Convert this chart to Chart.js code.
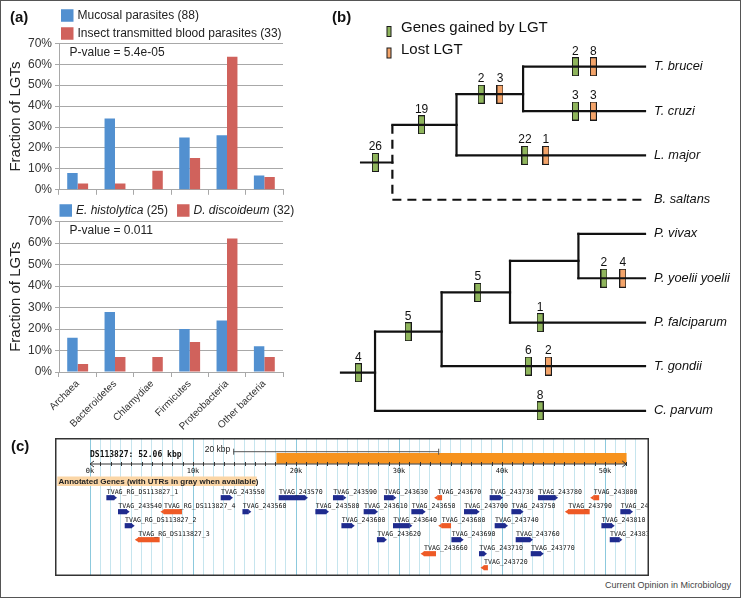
<!DOCTYPE html>
<html>
<head>
<meta charset="utf-8">
<script src="https://cdn.jsdelivr.net/npm/chart.js@4.4.1/dist/chart.umd.min.js"></script>
<style>
html, body { margin: 0; padding: 0; background: #fff; }
#page { position: relative; width: 743px; height: 599px; overflow: hidden; font-family: "Liberation Sans", Arial, sans-serif; }
#frame { position: absolute; left: 0; top: 0; width: 741px; height: 598px; box-sizing: border-box; border: 1.5px solid #555; }
canvas { position: absolute; }
.tag { position: absolute; font-weight: bold; font-size: 15px; color: #111; line-height: 1; }
#credit { position: absolute; left: 605px; top: 581px; font-size: 9px; color: #444; line-height: 1; }
</style>
</head>
<body>
<div id="page">
  <div id="frame"></div>
  <canvas id="barTop" width="300" height="200" style="left:0;top:0"></canvas>
  <canvas id="barBottom" width="300" height="235" style="left:0;top:195px"></canvas>
  <canvas id="tree" width="405" height="430" style="left:335px;top:0"></canvas>
  <canvas id="genome" width="594" height="138" style="left:55px;top:438px"></canvas>
  <div class="tag" style="left:10px;top:9px">(a)</div>
  <div class="tag" style="left:332px;top:9px">(b)</div>
  <div class="tag" style="left:11px;top:438px">(c)</div>
  <div id="credit">Current Opinion in Microbiology</div>
</div>
<script>
// ---- panel (a): fraction of LGTs by donor group (%)
const categories = ['Archaea', 'Bacteroidetes', 'Chlamydiae', 'Firmicutes', 'Proteobacteria', 'Other bacteria'];
const mucosal = [8, 34.1, 0, 25, 26.1, 6.8];
const insectBlood = [3, 3, 9.1, 15.2, 63.6, 6.1];
const histolytica = [16, 28, 0, 20, 24, 12];
const discoideum = [3.7, 7, 7, 14, 62.2, 7];
const yTicks = [0, 10, 20, 30, 40, 50, 60, 70];

// ---- panel (b): trees, [x1, y1, x2, y2, dashed] in tree units
const treeSegments = [
  [6.6, 2.16, 16.9, 2.16, 0],
  [16.9, 1.31, 38.0, 1.31, 0],
  [38.0, 0.62, 38.0, 2, 0],
  [38.0, 0.62, 59.9, 0.62, 0],
  [59.9, 0, 59.9, 1, 0],
  [59.9, 0, 100, 0, 0],
  [59.9, 1, 100, 1, 0],
  [38.0, 2, 100, 2, 0],
  [16.9, 1.31, 16.9, 3, 1],
  [16.9, 3, 100, 3, 1],
  [0, 6.90, 11.2, 6.90, 0],
  [11.2, 5.975, 11.2, 7.76, 0],
  [11.2, 5.975, 33.1, 5.975, 0],
  [11.2, 7.76, 100, 7.76, 0],
  [33.1, 5.09, 33.1, 6.75, 0],
  [33.1, 5.09, 55.6, 5.09, 0],
  [33.1, 6.75, 100, 6.75, 0],
  [55.6, 4.38, 55.6, 5.77, 0],
  [55.6, 4.38, 78.1, 4.38, 0],
  [55.6, 5.77, 100, 5.77, 0],
  [78.1, 3.77, 78.1, 4.77, 0],
  [78.1, 3.77, 100, 3.77, 0],
  [78.1, 4.77, 100, 4.77, 0]
];
const gainX = [11.3, 26.5, 46.1, 77.1, 77.1, 60.5, 5.7, 22.1, 45.0, 86.5, 65.5, 61.6, 65.5];
const gainY = [2.16, 1.31, 0.62, 0, 1, 2, 6.90, 5.975, 5.09, 4.77, 5.77, 6.75, 7.76];
const gainN = [26, 19, 2, 2, 3, 22, 4, 5, 5, 2, 1, 6, 8];
const lossX = [52.3, 83.0, 83.0, 67.4, 92.7, 68.2];
const lossY = [0.62, 0, 1, 2, 4.77, 6.75];
const lossN = [3, 8, 3, 1, 4, 2];
const leafNames = ['T. brucei', 'T. cruzi', 'L. major', 'B. saltans', 'P. vivax', 'P. yoelii yoelii', 'P. falciparum', 'T. gondii', 'C. parvum'];
const leafRows = [0, 1, 2, 3, 3.77, 4.77, 5.77, 6.75, 7.76];

// ---- panel (c): contig DS113827, positions in kbp
const contigLength = 52.06;
const highlightStart = 18.13;
const scaleBarKb = [13.9, 33.9];
const rulerLabels = [0, 10, 20, 30, 40, 50];
const geneNames = [
  'TVAG_RG_DS113827_1', 'TVAG_243550', 'TVAG_243570', 'TVAG_243590', 'TVAG_243630', 'TVAG_243670', 'TVAG_243730', 'TVAG_243780', 'TVAG_243800',
  'TVAG_243540', 'TVAG_RG_DS113827_4', 'TVAG_243560', 'TVAG_243580', 'TVAG_243610', 'TVAG_243650', 'TVAG_243700', 'TVAG_243750', 'TVAG_243790', 'TVAG_243820',
  'TVAG_RG_DS113827_2', 'TVAG_243600', 'TVAG_243640', 'TVAG_243680', 'TVAG_243740', 'TVAG_243810',
  'TVAG_RG_DS113827_3', 'TVAG_243620', 'TVAG_243690', 'TVAG_243760', 'TVAG_243830',
  'TVAG_243660', 'TVAG_243710', 'TVAG_243770',
  'TVAG_243720'
];
const geneRows = [1,1,1,1,1,1,1,1,1, 2,2,2,2,2,2,2,2,2,2, 3,3,3,3,3,3, 4,4,4,4,4, 5,5,5, 6];
const geneStart = [1.62, 12.72, 18.35, 23.62, 28.57, 33.75, 38.83, 43.52, 48.9,
  2.75, 7.18, 14.83, 21.91, 26.60, 31.23, 36.34, 40.94, 46.44, 51.52,
  3.40, 24.44, 29.45, 34.15, 39.32, 49.68,
  4.69, 27.89, 35.12, 41.36, 50.49,
  32.43, 37.80, 42.82,
  38.25];
const geneEnd = [2.33, 13.59, 20.87, 24.59, 29.45, 34.15, 39.81, 45.15, 49.4,
  3.56, 8.90, 15.37, 22.91, 27.67, 32.30, 37.54, 41.81, 48.48, 52.43,
  4.05, 25.41, 31.00, 35.02, 40.29, 50.65,
  6.73, 28.54, 35.99, 42.72, 51.39,
  33.56, 38.25, 43.76,
  38.60];
const geneStrand = ['+','+','+','+','+','-','+','+','-',
  '+','-','+','+','+','+','+','+','-','+',
  '+','+','+','-','+','+',
  '-','+','+','+','+',
  '-','+','+',
  '-'];

const SANS = '"Liberation Sans", Arial, sans-serif';
const MONO = '"DejaVu Sans Mono", "Liberation Mono", monospace';
Chart.defaults.font.family = SANS;
Chart.defaults.animation = false;
Chart.defaults.events = [];
Chart.defaults.plugins.legend.display = false;
Chart.defaults.plugins.tooltip.enabled = false;

const BLUE = '#5290d0';
const RED = '#d0625c';
const GRID = '#a8a8a8';

const legendPlugin = {
  id: 'lgtLegend',
  afterDraw(chart, args, o) {
    const ctx = chart.ctx;
    ctx.save();
    ctx.textBaseline = 'middle';
    let x = o.x, y = o.y;
    chart.data.datasets.forEach((ds, i) => {
      if (o.stacked && i > 0) { x = o.x; y += o.rowGap; }
      ctx.fillStyle = ds.backgroundColor;
      ctx.fillRect(x, y - o.box / 2, o.box, o.box);
      x += o.box + 4;
      const m = ds.label.match(/^(.*?)( \(\d+\))$/);
      const parts = o.italic ? [[m[1], 'italic '], [m[2], '']] : [[ds.label, '']];
      ctx.fillStyle = '#222';
      parts.forEach(([t, st]) => {
        ctx.font = st + '12px ' + SANS;
        ctx.fillText(t, x, y);
        x += ctx.measureText(t).width;
      });
      x += 9;
    });
    ctx.font = '12px ' + SANS;
    ctx.fillText(o.note, o.noteX, o.noteY);
    ctx.restore();
  }
};

function barChart(id, seriesA, labelA, seriesB, labelB, showLabels, top, xHeight, legend) {
  return new Chart(document.getElementById(id), {
    type: 'bar',
    data: {
      labels: categories,
      datasets: [
        { label: labelA, data: seriesA, backgroundColor: BLUE },
        { label: labelB, data: seriesB, backgroundColor: RED }
      ]
    },
    options: {
      responsive: false,
      categoryPercentage: 0.56,
      barPercentage: 1,
      layout: { padding: { left: 0, right: 17, top: top, bottom: 0 } },
      scales: {
        x: {
          grid: { drawOnChartArea: false, drawTicks: true, tickLength: 5, color: GRID },
          border: { color: GRID },
          ticks: { display: showLabels, font: { size: 10 }, color: '#333', minRotation: 45, maxRotation: 45, autoSkip: false, padding: 1 },
          afterFit: s => { s.height = xHeight; }
        },
        y: {
          min: 0, max: 70,
          afterBuildTicks: s => { s.ticks = yTicks.map(v => ({ value: v })); },
          grid: { color: GRID, tickLength: 4 },
          border: { color: GRID },
          ticks: { font: { size: 12 }, color: '#333', padding: 3, callback: v => v + '%' },
          title: { display: true, text: 'Fraction of LGTs', font: { size: 15 }, color: '#222', padding: { top: 7, bottom: 0 } },
          afterFit: s => { s.width = 59; }
        }
      },
      plugins: { lgtLegend: legend }
    },
    plugins: [legendPlugin]
  });
}

barChart('barTop', mucosal, 'Mucosal parasites (88)', insectBlood, 'Insect transmitted blood parasites (33)',
  false, 43.3, 8.3,
  { x: 61, y: 15.5, box: 12.5, stacked: true, rowGap: 18, italic: false, note: 'P-value = 5.4e-05', noteX: 69.5, noteY: 53 });

barChart('barBottom', histolytica, 'E. histolytica (25)', discoideum, 'D. discoideum (32)',
  true, 26.7, 58,
  { x: 59.5, y: 15.5, box: 12.5, stacked: false, rowGap: 0, italic: true, note: 'P-value = 0.011', noteX: 69.5, noteY: 36 });

// ---- panel (b)
function boxImage(fill) {
  const c = document.createElement('canvas');
  c.width = 7; c.height = 19;
  const g = c.getContext('2d');
  g.fillStyle = '#1a1a1a';
  g.fillRect(0, 0, 7, 19);
  g.fillStyle = fill;
  g.fillRect(1, 1, 5, 17);
  return c;
}
const GREEN = '#8fb55c';
const ORANGE = '#f3a46a';

const treeDatasets = treeSegments.map(s => ({
  type: 'line',
  data: [{ x: s[0], y: s[1] }, { x: s[2], y: s[3] }],
  borderColor: '#111',
  borderWidth: 2.2,
  borderDash: s[4] ? [9, 6] : [],
  borderCapStyle: s[4] ? 'butt' : 'square',
  pointRadius: 0,
  clip: false
}));
treeDatasets.push({
  type: 'scatter', label: 'Genes gained by LGT',
  data: gainX.map((x, i) => ({ x: x, y: gainY[i] })),
  pointStyle: boxImage(GREEN), pointRadius: 5, clip: false
});
treeDatasets.push({
  type: 'scatter', label: 'Lost LGT',
  data: lossX.map((x, i) => ({ x: x, y: lossY[i] })),
  pointStyle: boxImage(ORANGE), pointRadius: 5, clip: false
});

const treeText = {
  id: 'treeText',
  afterDraw(chart) {
    const ctx = chart.ctx, xs = chart.scales.x, ys = chart.scales.y;
    ctx.save();
    ctx.fillStyle = '#111';
    ctx.font = '12px ' + SANS;
    ctx.textAlign = 'center';
    ctx.textBaseline = 'alphabetic';
    gainX.forEach((x, i) => ctx.fillText(String(gainN[i]), xs.getPixelForValue(x), ys.getPixelForValue(gainY[i]) - 12));
    lossX.forEach((x, i) => ctx.fillText(String(lossN[i]), xs.getPixelForValue(x), ys.getPixelForValue(lossY[i]) - 12));
    ctx.textAlign = 'left';
    ctx.textBaseline = 'middle';
    ctx.font = 'italic 12.8px ' + SANS;
    const lx = xs.getPixelForValue(100) + 9;
    leafNames.forEach((n, i) => ctx.fillText(n, lx, ys.getPixelForValue(leafRows[i])));
    // legend
    ctx.font = '15px ' + SANS;
    [[GREEN, 'Genes gained by LGT', 31.5], [ORANGE, 'Lost LGT', 53]].forEach(([c, t, y]) => {
      ctx.fillStyle = '#1a1a1a';
      ctx.fillRect(51.5, y - 5.5, 5, 11);
      ctx.fillStyle = c;
      ctx.fillRect(52.5, y - 4.5, 3, 9);
      ctx.fillStyle = '#111';
      ctx.fillText(t, 66, y - 3.5);
    });
    ctx.restore();
  }
};

new Chart(document.getElementById('tree'), {
  type: 'scatter',
  data: { datasets: treeDatasets },
  options: {
    responsive: false,
    layout: { padding: { left: 6, right: 95, top: 66.7, bottom: 8.5 } },
    scales: {
      x: { type: 'linear', min: 0, max: 100, display: false },
      y: { type: 'linear', min: 0, max: 8, reverse: true, display: false }
    }
  },
  plugins: [treeText]
});

// ---- panel (c)
const NAVY = '#1f2b8e';
const VERM = '#ee5a26';
const rowY = -1.81; // highlight band row

const browserText = {
  id: 'browserText',
  afterDatasetsDraw(chart) {
    const ctx = chart.ctx, xs = chart.scales.x, ys = chart.scales.y, a = chart.chartArea;
    const X = v => xs.getPixelForValue(v);
    ctx.save();
    // scale bar
    ctx.strokeStyle = '#555';
    ctx.lineWidth = 1;
    const sy = 13.7;
    ctx.beginPath();
    ctx.moveTo(X(scaleBarKb[0]), sy); ctx.lineTo(X(scaleBarKb[1]), sy);
    ctx.moveTo(X(scaleBarKb[0]) + 0.5, sy - 3); ctx.lineTo(X(scaleBarKb[0]) + 0.5, sy + 3);
    ctx.moveTo(X(scaleBarKb[1]) - 0.5, sy - 3); ctx.lineTo(X(scaleBarKb[1]) - 0.5, sy + 3);
    ctx.stroke();
    ctx.fillStyle = '#222';
    ctx.font = '8.5px ' + SANS;
    ctx.textAlign = 'right';
    ctx.textBaseline = 'middle';
    ctx.fillText('20 kbp', X(scaleBarKb[0]) - 3, 12);
    ctx.textAlign = 'left';
    ctx.font = 'bold 8px ' + MONO;
    ctx.fillStyle = '#111';
    ctx.fillText('DS113827: 52.06 kbp', X(0), 16.5);
    // ruler
    const ry = 26;
    ctx.strokeStyle = '#333';
    ctx.beginPath();
    ctx.moveTo(X(0), ry); ctx.lineTo(X(contigLength), ry);
    ctx.moveTo(X(0) + 4, ry - 3); ctx.lineTo(X(0), ry); ctx.lineTo(X(0) + 4, ry + 3);
    ctx.moveTo(X(contigLength) - 4, ry - 3); ctx.lineTo(X(contigLength), ry); ctx.lineTo(X(contigLength) - 4, ry + 3);
    for (let k = 1; k <= Math.floor(contigLength); k++) {
      const px = Math.round(X(k)) + 0.5;
      ctx.moveTo(px, ry - 2); ctx.lineTo(px, ry + 2);
    }
    ctx.stroke();
    ctx.font = '7px ' + MONO;
    ctx.textAlign = 'center';
    rulerLabels.forEach(k => ctx.fillText(k + 'k', X(k), ry + 7));
    // track header
    ctx.fillStyle = '#fbd6a6';
    ctx.fillRect(2.3, 38.5, 199.4, 9.5);
    ctx.fillStyle = '#222';
    ctx.font = 'bold 8px ' + SANS;
    ctx.textAlign = 'left';
    ctx.fillText('Annotated Genes (with UTRs in gray when available)', 3.5, 43.5);
    // gene arrows and labels
    ctx.beginPath();
    ctx.rect(a.left + 1, a.top, a.right - a.left - 2.5, a.bottom - a.top);
    ctx.clip();
    ctx.font = '6.6px ' + MONO;
    geneNames.forEach((n, i) => {
      const y = ys.getPixelForValue(geneRows[i]);
      const x0 = X(geneStart[i]), x1 = X(geneEnd[i]);
      ctx.fillStyle = geneStrand[i] === '+' ? NAVY : VERM;
      ctx.beginPath();
      if (geneStrand[i] === '+') {
        ctx.moveTo(x1, y - 2.25); ctx.lineTo(x1 + 3, y); ctx.lineTo(x1, y + 2.25);
      } else {
        ctx.moveTo(x0, y - 2.25); ctx.lineTo(x0 - 3.5, y); ctx.lineTo(x0, y + 2.25);
      }
      ctx.fill();
      ctx.fillStyle = '#111';
      ctx.fillText(n, x0, y - 5.5);
    });
    ctx.restore();
  },
  afterDraw(chart) {
    const ctx = chart.ctx;
    ctx.save();
    ctx.strokeStyle = '#333';
    ctx.lineWidth = 1.5;
    ctx.strokeRect(0.75, 0.75, chart.width - 1.5, chart.height - 1.5);
    ctx.restore();
  }
};

new Chart(document.getElementById('genome'), {
  type: 'bar',
  data: {
    datasets: [
      {
        label: 'highlight',
        data: [{ x: [highlightStart, contigLength], y: rowY }],
        backgroundColor: '#f7931e',
        barThickness: 10, maxBarThickness: 10, grouped: false
      },
      {
        label: 'genes',
        data: geneNames.map((n, i) => ({ x: [geneStart[i], geneEnd[i]], y: geneRows[i] })),
        backgroundColor: geneStrand.map(s => s === '+' ? NAVY : VERM),
        barThickness: 4.5, maxBarThickness: 4.5, grouped: false
      }
    ]
  },
  options: {
    responsive: false,
    indexAxis: 'y',
    layout: { padding: 0 },
    scales: {
      x: {
        type: 'linear', min: -3.398, max: 54.27,
        afterBuildTicks: s => { const t = []; for (let k = 0; k <= 53; k++) t.push({ value: k }); s.ticks = t; },
        ticks: { display: false },
        grid: { drawTicks: false, lineWidth: 1, color: c => (c.tick && c.tick.value % 10 === 0) ? '#8cc9dd' : '#c6e5ee' },
        border: { display: false },
        afterFit: s => { s.height = 0; }
      },
      y: { type: 'linear', min: -3.264, max: 6.593, reverse: true, offset: false, display: false }
    }
  },
  plugins: [browserText]
});
</script>
</body>
</html>
